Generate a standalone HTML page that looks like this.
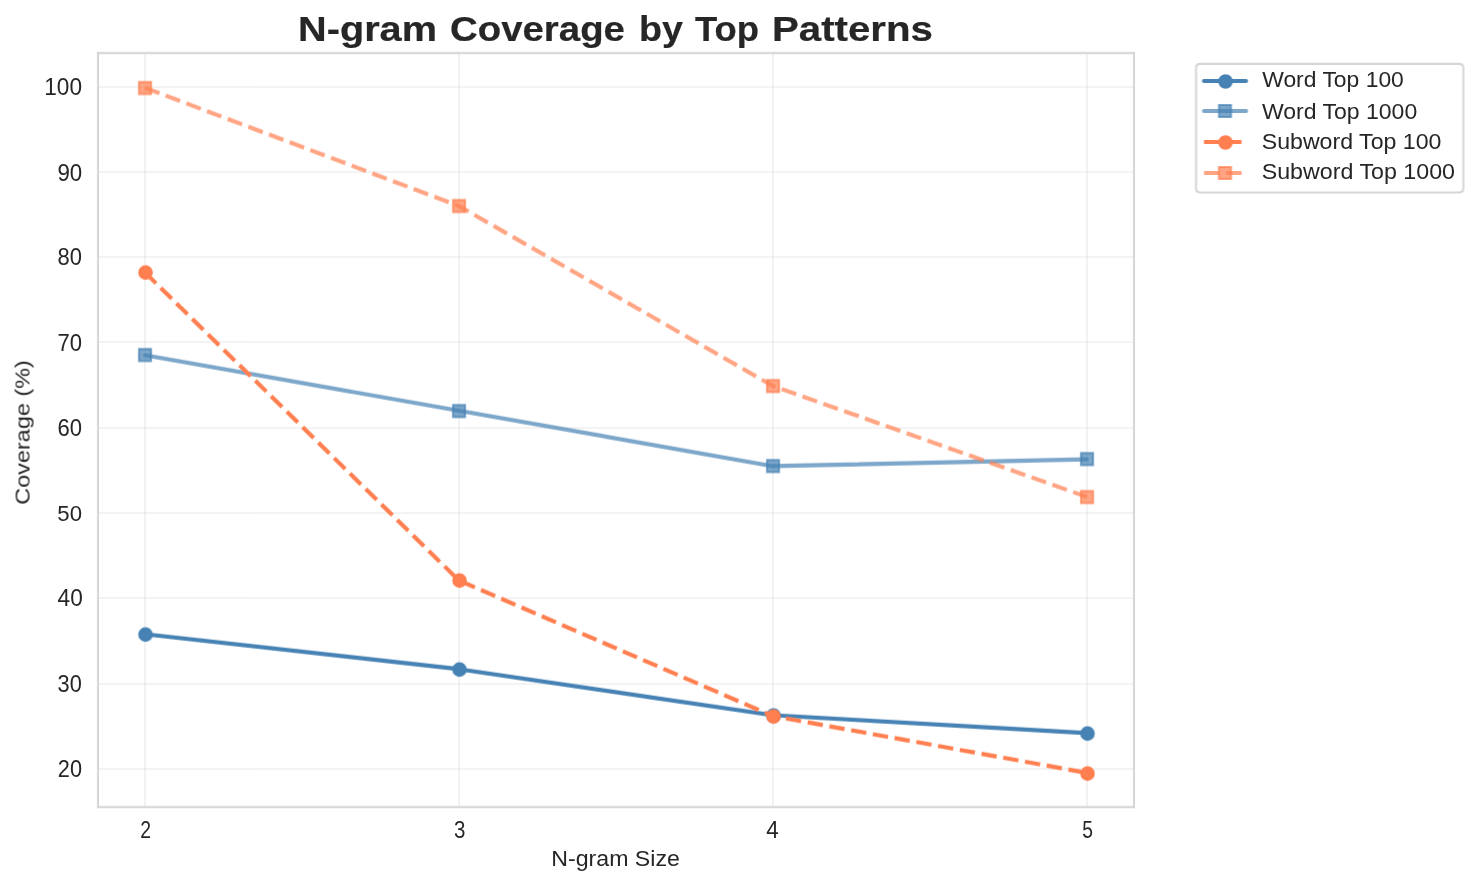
<!DOCTYPE html>
<html><head><meta charset="utf-8"><title>N-gram Coverage by Top Patterns</title>
<style>svg text{will-change:transform}html,body{margin:0;padding:0;background:#fff;width:1478px;height:885px;overflow:hidden}</style>
</head><body>
<svg width="1478" height="885" viewBox="0 -0.31200 709.44 424.8" style="display:block">
<defs>
<style type="text/css">*{stroke-linejoin: round; stroke-linecap: butt}</style>
</defs>
<g id="figure_1">
<g id="patch_1">
<path d="M 0 424.63375 L 709.596 424.63375 L 709.596 0 L 0 0 z
" style="fill: #ffffff"/>
</g>
<g id="axes_1">
<g id="patch_2">
<path d="M 46.965625 387.0775 L 544.235625 387.0775 L 544.235625 25.3575 L 46.965625 25.3575 z
" style="fill: #ffffff"/>
</g>
<g id="matplotlib.axis_1">
<g id="xtick_1">
<g id="line2d_1">
<path d="M 69.60000 387.04800 L 69.60000 25.12800" clip-path="url(#p0a46382b51)" style="fill: none; stroke: #cccccc; stroke-opacity: 0.3; stroke-width: 0.8; stroke-linecap: round"/>
</g>
<g id="text_1">
<text style="font-size:11.376px;font-family:'Liberation Sans',sans-serif;text-anchor:middle;fill:#262626" x="69.8688" y="401.7359" transform="rotate(-0 69.568807 401.675937)" textLength="5.187" lengthAdjust="spacingAndGlyphs">2</text>
</g>
</g>
<g id="xtick_2">
<g id="line2d_2">
<path d="M 220.32000 387.04800 L 220.32000 25.12800" clip-path="url(#p0a46382b51)" style="fill: none; stroke: #cccccc; stroke-opacity: 0.3; stroke-width: 0.8; stroke-linecap: round"/>
</g>
<g id="text_2">
<text style="font-size:11.609px;font-family:'Liberation Sans',sans-serif;text-anchor:middle;fill:#262626" x="220.6167" y="401.7359" transform="rotate(-0 220.256686 401.675937)" textLength="5.482" lengthAdjust="spacingAndGlyphs">3</text>
</g>
</g>
<g id="xtick_3">
<g id="line2d_3">
<path d="M 371.04000 387.04800 L 371.04000 25.12800" clip-path="url(#p0a46382b51)" style="fill: none; stroke: #cccccc; stroke-opacity: 0.3; stroke-width: 0.8; stroke-linecap: round"/>
</g>
<g id="text_3">
<text style="font-size:11.131px;font-family:'Liberation Sans',sans-serif;text-anchor:middle;fill:#262626" x="370.7646" y="401.7359" transform="rotate(-0 370.944564 401.675937)" textLength="5.985" lengthAdjust="spacingAndGlyphs">4</text>
</g>
</g>
<g id="xtick_4">
<g id="line2d_4">
<path d="M 521.76000 387.04800 L 521.76000 25.12800" clip-path="url(#p0a46382b51)" style="fill: none; stroke: #cccccc; stroke-opacity: 0.3; stroke-width: 0.8; stroke-linecap: round"/>
</g>
<g id="text_4">
<text style="font-size:11.158px;font-family:'Liberation Sans',sans-serif;text-anchor:middle;fill:#262626" x="521.9924" y="401.7359" transform="rotate(-0 521.632443 401.675937)" textLength="5.136" lengthAdjust="spacingAndGlyphs">5</text>
</g>
</g>
<g id="text_5">
<text style="font-size:10.878px;font-family:'Liberation Sans',sans-serif;text-anchor:middle;fill:#262626" x="295.4806" y="415.1741" transform="rotate(-0 295.600625 415.354062)" textLength="61.753" lengthAdjust="spacingAndGlyphs">N-gram Size</text>
</g>
</g>
<g id="matplotlib.axis_2">
<g id="ytick_1">
<g id="line2d_5">
<path d="M 47.04000 368.80800 L 544.32000 368.80800" clip-path="url(#p0a46382b51)" style="fill: none; stroke: #cccccc; stroke-opacity: 0.3; stroke-width: 0.8; stroke-linecap: round"/>
</g>
<g id="text_6">
<text style="font-size:11.600px;font-family:'Liberation Sans',sans-serif;text-anchor:end;fill:#262626" x="39.3656" y="372.4316" transform="rotate(-0 39.965625 372.551625)" textLength="11.603" lengthAdjust="spacingAndGlyphs">20</text>
</g>
</g>
<g id="ytick_2">
<g id="line2d_6">
<path d="M 47.04000 328.00800 L 544.32000 328.00800" clip-path="url(#p0a46382b51)" style="fill: none; stroke: #cccccc; stroke-opacity: 0.3; stroke-width: 0.8; stroke-linecap: round"/>
</g>
<g id="text_7">
<text style="font-size:11.158px;font-family:'Liberation Sans',sans-serif;text-anchor:end;fill:#262626" x="39.2456" y="331.6708" transform="rotate(-0 39.965625 331.610842)" textLength="11.603" lengthAdjust="spacingAndGlyphs">30</text>
</g>
</g>
<g id="ytick_3">
<g id="line2d_7">
<path d="M 47.04000 286.72800 L 544.32000 286.72800" clip-path="url(#p0a46382b51)" style="fill: none; stroke: #cccccc; stroke-opacity: 0.3; stroke-width: 0.8; stroke-linecap: round"/>
</g>
<g id="text_8">
<text style="font-size:11.484px;font-family:'Liberation Sans',sans-serif;text-anchor:end;fill:#262626" x="39.7256" y="290.3701" transform="rotate(-0 39.965625 290.67006)" textLength="12.083" lengthAdjust="spacingAndGlyphs">40</text>
</g>
</g>
<g id="ytick_4">
<g id="line2d_8">
<path d="M 47.04000 245.92800 L 544.32000 245.92800" clip-path="url(#p0a46382b51)" style="fill: none; stroke: #cccccc; stroke-opacity: 0.3; stroke-width: 0.8; stroke-linecap: round"/>
</g>
<g id="text_9">
<text style="font-size:10.710px;font-family:'Liberation Sans',sans-serif;text-anchor:end;fill:#262626" x="39.3656" y="249.5493" transform="rotate(-0 39.965625 249.729278)" textLength="11.835" lengthAdjust="spacingAndGlyphs">50</text>
</g>
</g>
<g id="ytick_5">
<g id="line2d_9">
<path d="M 47.04000 205.12800 L 544.32000 205.12800" clip-path="url(#p0a46382b51)" style="fill: none; stroke: #cccccc; stroke-opacity: 0.3; stroke-width: 0.8; stroke-linecap: round"/>
</g>
<g id="text_10">
<text style="font-size:11.381px;font-family:'Liberation Sans',sans-serif;text-anchor:end;fill:#262626" x="39.3656" y="208.7885" transform="rotate(-0 39.965625 208.788495)" textLength="11.777" lengthAdjust="spacingAndGlyphs">60</text>
</g>
</g>
<g id="ytick_6">
<g id="line2d_10">
<path d="M 47.04000 163.84800 L 544.32000 163.84800" clip-path="url(#p0a46382b51)" style="fill: none; stroke: #cccccc; stroke-opacity: 0.3; stroke-width: 0.8; stroke-linecap: round"/>
</g>
<g id="text_11">
<text style="font-size:11.604px;font-family:'Liberation Sans',sans-serif;text-anchor:end;fill:#262626" x="39.3656" y="167.9677" transform="rotate(-0 39.965625 167.847713)" textLength="11.777" lengthAdjust="spacingAndGlyphs">70</text>
</g>
</g>
<g id="ytick_7">
<g id="line2d_11">
<path d="M 47.04000 123.04800 L 544.32000 123.04800" clip-path="url(#p0a46382b51)" style="fill: none; stroke: #cccccc; stroke-opacity: 0.3; stroke-width: 0.8; stroke-linecap: round"/>
</g>
<g id="text_12">
<text style="font-size:11.372px;font-family:'Liberation Sans',sans-serif;text-anchor:end;fill:#262626" x="39.3056" y="126.6669" transform="rotate(-0 39.965625 126.906931)" textLength="11.723" lengthAdjust="spacingAndGlyphs">80</text>
</g>
</g>
<g id="ytick_8">
<g id="line2d_12">
<path d="M 47.04000 82.24800 L 544.32000 82.24800" clip-path="url(#p0a46382b51)" style="fill: none; stroke: #cccccc; stroke-opacity: 0.3; stroke-width: 0.8; stroke-linecap: round"/>
</g>
<g id="text_13">
<text style="font-size:11.372px;font-family:'Liberation Sans',sans-serif;text-anchor:end;fill:#262626" x="39.4856" y="86.3861" transform="rotate(-0 39.965625 85.966148)" textLength="11.901" lengthAdjust="spacingAndGlyphs">90</text>
</g>
</g>
<g id="ytick_9">
<g id="line2d_13">
<path d="M 47.04000 41.44800 L 544.32000 41.44800" clip-path="url(#p0a46382b51)" style="fill: none; stroke: #cccccc; stroke-opacity: 0.3; stroke-width: 0.8; stroke-linecap: round"/>
</g>
<g id="text_14">
<text style="font-size:11.267px;font-family:'Liberation Sans',sans-serif;text-anchor:end;fill:#262626" x="39.3656" y="45.0854" transform="rotate(-0 39.965625 45.025366)" textLength="18.128" lengthAdjust="spacingAndGlyphs">100</text>
</g>
</g>
<g id="text_15">
<text style="font-size:9.779px;font-family:'Liberation Sans',sans-serif;text-anchor:middle;fill:#262626" x="13.7784" y="205.3775" transform="rotate(-90 14.798438 206.2175)" textLength="69.426" lengthAdjust="spacingAndGlyphs">Coverage (%)</text>
</g>
</g>
<g id="line2d_14">
<path d="M 69.568807 304.06597 L 220.256686 320.851691 L 370.944564 342.959713 L 521.632443 351.557277 " clip-path="url(#p0a46382b51)" style="fill: none; stroke: #4682b4; stroke-width: 2; stroke-linecap: round"/>
<defs>
<path id="md2b84c7960" d="M 0 3 C 0.795609 3 1.55874 2.683901 2.12132 2.12132 C 2.683901 1.55874 3 0.795609 3 0 C 3 -0.795609 2.683901 -1.55874 2.12132 -2.12132 C 1.55874 -2.683901 0.795609 -3 0 -3 C -0.795609 -3 -1.55874 -2.683901 -2.12132 -2.12132 C -2.683901 -1.55874 -3 -0.795609 -3 0 C -3 0.795609 -2.683901 1.55874 -2.12132 2.12132 C -1.55874 2.683901 -0.795609 3 0 3 z
" style="stroke: #4682b4"/>
</defs>
<g clip-path="url(#p0a46382b51)">
<use href="#md2b84c7960" x="69.84000" y="304.24800" style="fill: #4682b4; stroke: #4682b4"/>
<use href="#md2b84c7960" x="220.56000" y="321.04800" style="fill: #4682b4; stroke: #4682b4"/>
<use href="#md2b84c7960" x="371.28000" y="343.12800" style="fill: #4682b4; stroke: #4682b4"/>
<use href="#md2b84c7960" x="522.00000" y="351.76800" style="fill: #4682b4; stroke: #4682b4"/>
</g>
</g>
<g id="line2d_15">
<path d="M 69.568807 170.189612 L 220.256686 196.80112 L 370.944564 223.412629 L 521.632443 220.137366 " clip-path="url(#p0a46382b51)" style="fill: none; stroke: #4682b4; stroke-opacity: 0.7; stroke-width: 2; stroke-linecap: round"/>
<defs>
<path id="m6bb517b192" d="M -2.88 2.88 L 2.88 2.88 L 2.88 -2.88 L -2.88 -2.88 z
" style="stroke: #4682b4; stroke-opacity: 0.7; stroke-linejoin: miter"/>
</defs>
<g clip-path="url(#p0a46382b51)">
<use href="#m6bb517b192" x="69.60000" y="170.08800" style="fill: #4682b4; fill-opacity: 0.7; stroke: #4682b4; stroke-opacity: 0.7; stroke-linejoin: miter"/>
<use href="#m6bb517b192" x="220.32000" y="196.96800" style="fill: #4682b4; fill-opacity: 0.7; stroke: #4682b4; stroke-opacity: 0.7; stroke-linejoin: miter"/>
<use href="#m6bb517b192" x="371.04000" y="223.36800" style="fill: #4682b4; fill-opacity: 0.7; stroke: #4682b4; stroke-opacity: 0.7; stroke-linejoin: miter"/>
<use href="#m6bb517b192" x="521.76000" y="220.00800" style="fill: #4682b4; fill-opacity: 0.7; stroke: #4682b4; stroke-opacity: 0.7; stroke-linejoin: miter"/>
</g>
</g>
<g id="line2d_16">
<path d="M 69.568807 130.477053 L 220.256686 278.273277 L 370.944564 343.369121 L 521.632443 370.635682 " clip-path="url(#p0a46382b51)" style="fill: none; stroke-dasharray: 7.4,3.2; stroke-dashoffset: 0; stroke: #ff7f50; stroke-width: 2"/>
<defs>
<path id="ma9a50e0886" d="M 0 3 C 0.795609 3 1.55874 2.683901 2.12132 2.12132 C 2.683901 1.55874 3 0.795609 3 0 C 3 -0.795609 2.683901 -1.55874 2.12132 -2.12132 C 1.55874 -2.683901 0.795609 -3 0 -3 C -0.795609 -3 -1.55874 -2.683901 -2.12132 -2.12132 C -2.683901 -1.55874 -3 -0.795609 -3 0 C -3 0.795609 -2.683901 1.55874 -2.12132 2.12132 C -1.55874 2.683901 -0.795609 3 0 3 z
" style="stroke: #ff7f50"/>
</defs>
<g clip-path="url(#p0a46382b51)">
<use href="#ma9a50e0886" x="69.84000" y="130.48800" style="fill: #ff7f50; stroke: #ff7f50"/>
<use href="#ma9a50e0886" x="220.56000" y="278.32800" style="fill: #ff7f50; stroke: #ff7f50"/>
<use href="#ma9a50e0886" x="371.28000" y="343.60800" style="fill: #ff7f50; stroke: #ff7f50"/>
<use href="#ma9a50e0886" x="522.00000" y="370.96800" style="fill: #ff7f50; stroke: #ff7f50"/>
</g>
</g>
<g id="line2d_17">
<path d="M 69.568807 41.799318 L 220.256686 98.543242 L 370.944564 184.928293 L 521.632443 238.15131 " clip-path="url(#p0a46382b51)" style="fill: none; stroke-dasharray: 7.4,3.2; stroke-dashoffset: 0; stroke: #ff7f50; stroke-opacity: 0.7; stroke-width: 2"/>
<defs>
<path id="m9c56b135de" d="M -2.88 2.88 L 2.88 2.88 L 2.88 -2.88 L -2.88 -2.88 z
" style="stroke: #ff7f50; stroke-opacity: 0.7; stroke-linejoin: miter"/>
</defs>
<g clip-path="url(#p0a46382b51)">
<use href="#m9c56b135de" x="69.60000" y="41.92800" style="fill: #ff7f50; fill-opacity: 0.7; stroke: #ff7f50; stroke-opacity: 0.7; stroke-linejoin: miter"/>
<use href="#m9c56b135de" x="220.32000" y="98.56800" style="fill: #ff7f50; fill-opacity: 0.7; stroke: #ff7f50; stroke-opacity: 0.7; stroke-linejoin: miter"/>
<use href="#m9c56b135de" x="371.04000" y="184.96800" style="fill: #ff7f50; fill-opacity: 0.7; stroke: #ff7f50; stroke-opacity: 0.7; stroke-linejoin: miter"/>
<use href="#m9c56b135de" x="521.76000" y="238.24800" style="fill: #ff7f50; fill-opacity: 0.7; stroke: #ff7f50; stroke-opacity: 0.7; stroke-linejoin: miter"/>
</g>
</g>
<g id="patch_3">
<path d="M 47.04000 387.04800 L 47.04000 25.12800" style="fill: none; stroke: #cccccc; stroke-width: 0.8; stroke-linejoin: miter; stroke-linecap: square"/>
</g>
<g id="patch_4">
<path d="M 544.32000 387.04800 L 544.32000 25.12800" style="fill: none; stroke: #cccccc; stroke-width: 0.8; stroke-linejoin: miter; stroke-linecap: square"/>
</g>
<g id="patch_5">
<path d="M 47.04000 387.04800 L 544.32000 387.04800" style="fill: none; stroke: #cccccc; stroke-width: 0.8; stroke-linejoin: miter; stroke-linecap: square"/>
</g>
<g id="patch_6">
<path d="M 47.04000 25.12800 L 544.32000 25.12800" style="fill: none; stroke: #cccccc; stroke-width: 0.8; stroke-linejoin: miter; stroke-linecap: square"/>
</g>
<g id="text_16">
<text style="font-size:16.886px;font-family:'Liberation Sans',sans-serif;font-weight:bold;text-anchor:start;fill:#262626;stroke:#262626;stroke-width:0.100px" x="143.0400" y="19.1775" textLength="66.720" lengthAdjust="spacingAndGlyphs">N-gram</text>
<text style="font-size:16.886px;font-family:'Liberation Sans',sans-serif;font-weight:bold;text-anchor:start;fill:#262626;stroke:#262626;stroke-width:0.100px" x="216.0000" y="19.1775" textLength="84.000" lengthAdjust="spacingAndGlyphs">Coverage</text>
<text style="font-size:16.886px;font-family:'Liberation Sans',sans-serif;font-weight:bold;text-anchor:start;fill:#262626;stroke:#262626;stroke-width:0.100px" x="306.7200" y="19.1775" textLength="21.120" lengthAdjust="spacingAndGlyphs">by</text>
<text style="font-size:16.886px;font-family:'Liberation Sans',sans-serif;font-weight:bold;text-anchor:start;fill:#262626;stroke:#262626;stroke-width:0.100px" x="333.6000" y="19.1775" textLength="30.720" lengthAdjust="spacingAndGlyphs">Top</text>
<text style="font-size:16.886px;font-family:'Liberation Sans',sans-serif;font-weight:bold;text-anchor:start;fill:#262626;stroke:#262626;stroke-width:0.100px" x="370.5600" y="19.1775" textLength="77.280" lengthAdjust="spacingAndGlyphs">Patterns</text>
</g>
<g id="legend_1">
<g id="patch_7">
<path d="M 576.099125 92.07 L 700.396 92.07 Q 702.396 92.07 702.396 90.07 L 702.396 32.3575 Q 702.396 30.3575 700.396 30.3575 L 576.099125 30.3575 Q 574.099125 30.3575 574.099125 32.3575 L 574.099125 90.07 Q 574.099125 92.07 576.099125 92.07 z
" style="fill: #ffffff; opacity: 0.8; stroke: #cccccc; stroke-linejoin: miter"/>
</g>
<g id="line2d_18">
<path d="M 577.92000 38.56800 L 588.00000 38.56800 L 598.08000 38.56800" style="fill: none; stroke: #4682b4; stroke-width: 2; stroke-linecap: round"/>
<g>
<use href="#md2b84c7960" x="588.24000" y="38.80800" style="fill: #4682b4; stroke: #4682b4"/>
</g>
</g>
<g id="text_17">
<text style="font-size:10.698px;font-family:'Liberation Sans',sans-serif;text-anchor:start;fill:#262626" x="605.8591" y="41.2359" transform="rotate(-0 606.099125 41.955937)" textLength="67.981" lengthAdjust="spacingAndGlyphs">Word Top 100</text>
</g>
<g id="line2d_19">
<path d="M 577.92000 52.96800 L 588.00000 52.96800 L 598.08000 52.96800" style="fill: none; stroke: #4682b4; stroke-opacity: 0.7; stroke-width: 2; stroke-linecap: round"/>
<g>
<use href="#m6bb517b192" x="588.00000" y="52.96800" style="fill: #4682b4; fill-opacity: 0.7; stroke: #4682b4; stroke-opacity: 0.7; stroke-linejoin: miter"/>
</g>
</g>
<g id="text_18">
<text style="font-size:10.285px;font-family:'Liberation Sans',sans-serif;text-anchor:start;fill:#262626" x="605.7391" y="56.5741" transform="rotate(-0 606.099125 56.634062)" textLength="74.529" lengthAdjust="spacingAndGlyphs">Word Top 1000</text>
</g>
<g id="line2d_20">
<path d="M 577.92000 67.84800 L 588.00000 67.84800 L 598.08000 67.84800" style="fill: none; stroke-dasharray: 7.4,3.2; stroke-dashoffset: 0; stroke: #ff7f50; stroke-width: 2"/>
<g>
<use href="#ma9a50e0886" x="588.24000" y="68.08800" style="fill: #ff7f50; stroke: #ff7f50"/>
</g>
</g>
<g id="text_19">
<text style="font-size:10.779px;font-family:'Liberation Sans',sans-serif;text-anchor:start;fill:#262626" x="605.6191" y="71.0122" transform="rotate(-0 606.099125 71.312187)" textLength="86.272" lengthAdjust="spacingAndGlyphs">Subword Top 100</text>
</g>
<g id="line2d_21">
<path d="M 577.92000 82.72800 L 588.00000 82.72800 L 598.08000 82.72800" style="fill: none; stroke-dasharray: 7.4,3.2; stroke-dashoffset: 0; stroke: #ff7f50; stroke-opacity: 0.7; stroke-width: 2"/>
<g>
<use href="#m9c56b135de" x="588.00000" y="82.72800" style="fill: #ff7f50; fill-opacity: 0.7; stroke: #ff7f50; stroke-opacity: 0.7; stroke-linejoin: miter"/>
</g>
</g>
<g id="text_20">
<text style="font-size:10.775px;font-family:'Liberation Sans',sans-serif;text-anchor:start;fill:#262626" x="605.6191" y="85.3903" transform="rotate(-0 606.099125 85.990312)" textLength="92.779" lengthAdjust="spacingAndGlyphs">Subword Top 1000</text>
</g>
</g>
</g>
</g>
<defs>
<clipPath id="p0a46382b51">
<rect x="46.965625" y="25.3575" width="497.27" height="361.72"/>
</clipPath>
</defs>
</svg>

</body></html>
